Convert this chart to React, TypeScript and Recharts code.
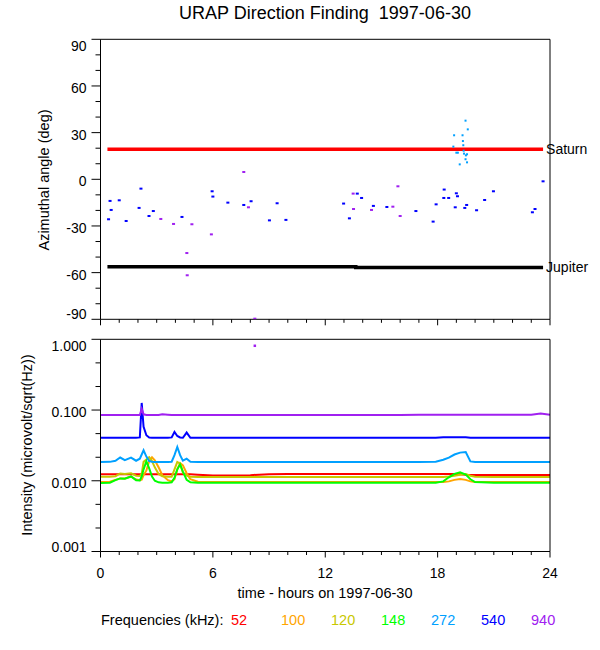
import React from 'react';
import { ComposedChart, Line, Scatter, XAxis, YAxis } from 'recharts';

const FONT = '"Liberation Sans", Arial, Helvetica, sans-serif';

// ---- top panel: azimuthal angle ----
const hourTicks = [0, 1, 2, 3, 4, 5, 6, 7, 8, 9, 10, 11, 12, 13, 14, 15, 16, 17, 18, 19, 20, 21, 22, 23, 24];
const angleTicks = [-90, -80, -70, -60, -50, -40, -30, -20, -10, 0, 10, 20, 30, 40, 50, 60, 70, 80, 90];

const blueHours = [0.43, 0.51, 0.57, 1.0, 1.37, 2.06, 2.16, 2.59, 2.82, 4.35, 5.96, 6.0, 6.8, 7.65, 8.04, 9.02, 9.43, 9.9, 12.98, 13.29, 13.71, 13.94, 14.57, 15.29, 16.84, 17.76, 17.92, 18.35, 18.33, 18.59, 18.94, 19.0, 19.06, 19.45, 19.55, 20.08, 20.51, 20.98, 23.06, 23.2, 23.63];
const blueAngles = [-25.7, -13.9, -19.7, -13.5, -26.8, -18.4, -6.0, -23.6, -20.4, -24.2, -7.7, -11.1, -15.0, -16.5, -14.1, -26.4, -15.4, -26.1, -15.6, -25.1, -9.2, -12.0, -17.1, -17.8, -20.4, -27.2, -16.1, -6.6, -12.0, -12.0, -18.0, -9.0, -10.9, -18.4, -16.5, -19.9, -13.3, -7.7, -21.2, -19.1, -1.3];

const purpleHours = [3.22, 3.9, 4.61, 4.63, 4.88, 5.92, 7.65, 7.9, 8.24, 13.49, 13.51, 14.47, 15.61, 15.88, 16.0];
const purpleAngles = [-25.5, -28.7, -47.4, -61.7, -28.9, -35.4, 4.7, -18.0, -89.6, -9.2, -19.1, -19.7, -17.6, -4.5, -23.6];

const cyanHours = [18.88, 18.84, 19.0, 19.08, 19.18, 19.33, 19.35, 19.37, 19.39, 19.41, 19.49, 19.51, 19.57, 19.49, 19.57, 19.61];
const cyanAngles = [28.3, 21.0, 17.1, 17.1, 9.6, 28.3, 24.6, 21.9, 18.4, 16.5, 37.7, 15.4, 16.1, 12.9, 10.9, 32.1];

const saturnHours = [0.37, 23.63];
const saturnAngles = [19.3, 19.3];
const jupiterHours = [0.37, 13.63, 23.63];
const jupiterAngles = [-56.2, -56.7, -56.7];

// ---- bottom panel: intensity ----
const intensityTicks = [0.001, 0.00215, 0.00464, 0.01, 0.0215, 0.0464, 0.1, 0.215, 0.464, 1];

const hours = [0, 0.5, 0.8, 1.05, 1.3, 1.63, 1.9, 2.1, 2.2, 2.3, 2.45, 2.6, 2.75, 2.9, 3.1, 3.3, 3.6, 3.8, 3.95, 4.1, 4.25, 4.4, 4.6, 4.8, 5.2, 6, 7, 8, 9, 10, 11, 12, 13, 14, 15, 16, 17, 17.9, 18.3, 18.6, 18.9, 19.2, 19.5, 19.75, 20, 21, 22, 23, 23.5, 24];

const f52 = [0.0124, 0.0124, 0.0124, 0.0124, 0.0124, 0.0124, 0.0124, 0.0124, 0.0124, 0.0124, 0.0124, 0.0124, 0.0124, 0.0124, 0.0124, 0.0124, 0.0124, 0.0124, 0.0124, 0.0124, 0.0124, 0.0124, 0.0124, 0.0124, 0.0122, 0.0119, 0.0119, 0.012, 0.0124, 0.0125, 0.0125, 0.0125, 0.0125, 0.0125, 0.0125, 0.0125, 0.0125, 0.0125, 0.0125, 0.0125, 0.0125, 0.0124, 0.0122, 0.0121, 0.0121, 0.0121, 0.0121, 0.0121, 0.0121, 0.0121];
const f100 = [0.0096, 0.0097, 0.0103, 0.0108, 0.0108, 0.0115, 0.0104, 0.0102, 0.0104, 0.012, 0.014, 0.019, 0.0215, 0.0195, 0.0155, 0.012, 0.0102, 0.0098, 0.0105, 0.0145, 0.0178, 0.0165, 0.0128, 0.0105, 0.0097, 0.0096, 0.0096, 0.0096, 0.0096, 0.0096, 0.0096, 0.0096, 0.0096, 0.0096, 0.0096, 0.0096, 0.0096, 0.0096, 0.0096, 0.0098, 0.0103, 0.0106, 0.0103, 0.0098, 0.0096, 0.0096, 0.0096, 0.0096, 0.0096, 0.0096];
const f120 = [0.0114, 0.0114, 0.0116, 0.0127, 0.0125, 0.0128, 0.0118, 0.0117, 0.0125, 0.0185, 0.02, 0.0215, 0.019, 0.0155, 0.0125, 0.0116, 0.0114, 0.0114, 0.0145, 0.0185, 0.0175, 0.013, 0.0118, 0.0114, 0.0113, 0.0113, 0.0113, 0.0113, 0.0113, 0.0113, 0.0113, 0.0113, 0.0113, 0.0113, 0.0113, 0.0113, 0.0113, 0.0113, 0.0113, 0.0115, 0.0118, 0.0122, 0.0125, 0.0118, 0.0114, 0.0113, 0.0113, 0.0113, 0.0113, 0.0113];
const f148 = [0.0093, 0.0094, 0.0102, 0.0108, 0.0107, 0.0115, 0.0102, 0.0101, 0.0115, 0.0145, 0.0188, 0.015, 0.0115, 0.01, 0.0095, 0.0094, 0.0094, 0.0095, 0.011, 0.0145, 0.017, 0.0135, 0.0103, 0.0095, 0.0094, 0.0094, 0.0094, 0.0094, 0.0094, 0.0094, 0.0094, 0.0094, 0.0094, 0.0094, 0.0094, 0.0094, 0.0094, 0.0094, 0.0098, 0.0112, 0.0125, 0.0132, 0.0122, 0.0105, 0.0096, 0.0094, 0.0094, 0.0094, 0.0094, 0.0094];
const f272 = [0.0184, 0.0185, 0.0192, 0.0213, 0.0196, 0.0212, 0.0192, 0.0205, 0.0235, 0.027, 0.022, 0.019, 0.0186, 0.0184, 0.0184, 0.0184, 0.0184, 0.0186, 0.023, 0.03, 0.023, 0.0192, 0.0205, 0.0186, 0.0184, 0.0184, 0.0184, 0.0184, 0.0184, 0.0184, 0.0184, 0.0184, 0.0184, 0.0184, 0.0184, 0.0184, 0.0184, 0.0186, 0.0198, 0.0212, 0.0235, 0.025, 0.0255, 0.0188, 0.0184, 0.0184, 0.0184, 0.0184, 0.0184, 0.0184];
const f540 = [0.0405, 0.0405, 0.0405, 0.0405, 0.0405, 0.0405, 0.0405, 0.041, 0.126, 0.058, 0.044, 0.041, 0.0405, 0.0405, 0.0405, 0.0405, 0.0405, 0.041, 0.049, 0.043, 0.041, 0.0405, 0.048, 0.0405, 0.0405, 0.0405, 0.0405, 0.0405, 0.0405, 0.0405, 0.0405, 0.0405, 0.0405, 0.0405, 0.0405, 0.0405, 0.0405, 0.0405, 0.0412, 0.0412, 0.0412, 0.0412, 0.0412, 0.0405, 0.0405, 0.0405, 0.0405, 0.0405, 0.0405, 0.0405];
const f940 = [0.085, 0.085, 0.085, 0.085, 0.085, 0.085, 0.085, 0.085, 0.104, 0.087, 0.085, 0.085, 0.085, 0.085, 0.085, 0.087, 0.086, 0.085, 0.085, 0.085, 0.085, 0.085, 0.085, 0.085, 0.085, 0.085, 0.085, 0.085, 0.085, 0.085, 0.085, 0.085, 0.085, 0.085, 0.085, 0.085, 0.086, 0.086, 0.086, 0.086, 0.086, 0.086, 0.086, 0.086, 0.086, 0.086, 0.086, 0.086, 0.089, 0.086];

const outlierHours = [8.24];
const outlierValues = [0.81];

const freqLabels = ['52', '100', '120', '148', '272', '540', '940'];
const freqColors = ['#ff0000', '#ffa500', '#c8c800', '#00ff00', '#00a0ff', '#0000ff', '#a020f0'];
const freqSeries = [f52, f100, f120, f148, f272, f540, f940];

const pts = (xs: number[], ys: number[]) => xs.map((h, i) => ({ h, a: ys[i] }));

type Side = 'left' | 'right' | 'top' | 'bottom';

function makeTick(side: Side, isMajor: (v: number) => boolean, majorLen: number, minorLen: number,
  label?: (v: number) => string | null, topVal?: number, bottomVal?: number) {
  return (props: any) => {
    const { x, y, payload } = props;
    const v = payload.value;
    const len = isMajor(v) ? majorLen : minorLen;
    let x2 = x, y2 = y;
    if (side === 'left') x2 = x - len;
    if (side === 'right') x2 = x + len;
    if (side === 'top') y2 = y - len;
    if (side === 'bottom') y2 = y + len;
    const txt = label ? label(v) : null;
    let t: any = null;
    if (txt) {
      if (side === 'left') {
        let dy = 7;
        if (v === topVal) dy = 12;
        if (v === bottomVal) dy = 0;
        t = <text x={x - 14} y={y + dy} textAnchor="end" fontFamily={FONT} fontSize={14} fill="#000">{txt}</text>;
      } else {
        t = <text x={x} y={y + 26} textAnchor="middle" fontFamily={FONT} fontSize={14} fill="#000">{txt}</text>;
      }
    }
    return (
      <g>
        <line x1={x} y1={y} x2={x2} y2={y2} stroke="#000" strokeWidth={1} />
        {t}
      </g>
    );
  };
}

const hourMajor = (v: number) => v % 6 === 0;
const angleMajor = (v: number) => v % 30 === 0;
const logMajor = (v: number) => Math.abs(Math.log10(v) - Math.round(Math.log10(v))) < 0.01;

const dash = (color: string, w: number, hgt: number) => (props: any) => (
  <rect x={props.cx - w / 2} y={props.cy - hgt / 2} width={w} height={hgt} fill={color} />
);

const planetLabel = (name: string, last: number) => (props: any) => {
  if (props.index !== last) return null;
  return (
    <text x={props.x + 3} y={props.y + 4.5} fontFamily={FONT} fontSize={14} fill="#000">{name}</text>
  );
};

const axisLine = { stroke: '#000', strokeWidth: 1 };

export default function App() {
  return (
    <div style={{ position: 'absolute', left: 0, top: 0, width: 600, height: 650, background: '#fff' }}>
      <div style={{ position: 'absolute', left: 0, top: 0 }}>
        <ComposedChart width={600} height={332} margin={{ top: 0, right: 0, bottom: 0, left: 0 }}>
          <XAxis dataKey="h" type="number" domain={[0, 24]} ticks={hourTicks} interval={0} allowDataOverflow
            height={12.7} tickSize={0} tickMargin={0} tickLine={false} axisLine={axisLine}
            tick={makeTick('bottom', hourMajor, 6, 3.5)} />
          <XAxis xAxisId="t" orientation="top" dataKey="h" type="number" domain={[0, 24]} ticks={hourTicks} interval={0}
            height={39.3} tickSize={0} tickMargin={0} tickLine={false} axisLine={axisLine}
            tick={makeTick('top', hourMajor, 6, 3.5)} />
          <YAxis type="number" domain={[-90, 90]} ticks={angleTicks} interval={0} allowDataOverflow width={100.5}
            tickSize={0} tickMargin={0} tickLine={false} axisLine={axisLine}
            tick={makeTick('left', angleMajor, 9, 5, (v) => (v % 30 === 0 ? String(v) : null), 90, -90)} />
          <YAxis yAxisId="r" orientation="right" type="number" domain={[-90, 90]} ticks={angleTicks} interval={0} width={50}
            tickSize={0} tickMargin={0} tickLine={false} axisLine={axisLine}
            tick={makeTick('right', angleMajor, 9, 5)} />
          <Line data={pts(saturnHours, saturnAngles)} dataKey="a" stroke="#ff0000" strokeWidth={3.5} dot={false}
            isAnimationActive={false} label={planetLabel('Saturn', saturnHours.length - 1)} />
          <Line data={pts(jupiterHours, jupiterAngles)} dataKey="a" type="stepAfter" stroke="#000" strokeWidth={3.5} dot={false}
            isAnimationActive={false} label={planetLabel('Jupiter', jupiterHours.length - 1)} />
          <Scatter data={pts(blueHours, blueAngles)} dataKey="a" shape={dash('#0000ff', 3, 2)} isAnimationActive={false} />
          <Scatter data={pts(purpleHours, purpleAngles)} dataKey="a" shape={dash('#a020f0', 3, 2)} isAnimationActive={false} />
          <Scatter data={pts(cyanHours, cyanAngles)} dataKey="a" shape={dash('#00a0ff', 2, 2)} isAnimationActive={false} />
        </ComposedChart>
      </div>
      <div style={{ position: 'absolute', left: 0, top: 332 }}>
        <ComposedChart width={600} height={250} margin={{ top: 0, right: 0, bottom: 0, left: 0 }}>
          <XAxis dataKey="h" type="number" domain={[0, 24]} ticks={hourTicks} interval={0} allowDataOverflow
            height={30.5} tickSize={0} tickMargin={0} tickLine={false} axisLine={axisLine}
            tick={makeTick('bottom', hourMajor, 6, 3.5, (v) => (v % 6 === 0 ? String(v) : null))} />
          <XAxis xAxisId="t" orientation="top" dataKey="h" type="number" domain={[0, 24]} ticks={hourTicks} interval={0}
            height={7.3} tickSize={0} tickMargin={0} tickLine={false} axisLine={axisLine}
            tick={makeTick('top', hourMajor, 6, 3.5)} />
          <YAxis type="number" scale="log" domain={[0.001, 1]} ticks={intensityTicks} interval={0} allowDataOverflow width={100.5}
            tickSize={0} tickMargin={0} tickLine={false} axisLine={axisLine}
            tick={makeTick('left', logMajor, 9, 5, (v) => (logMajor(v) ? v.toFixed(3) : null), 1, 0.001)} />
          <YAxis yAxisId="r" orientation="right" type="number" scale="log" domain={[0.001, 1]} ticks={intensityTicks} interval={0} width={50}
            tickSize={0} tickMargin={0} tickLine={false} axisLine={axisLine}
            tick={makeTick('right', logMajor, 9, 5)} />
          {freqSeries.map((s, i) => (
            <Line key={freqLabels[i]} data={pts(hours, s)} dataKey="a" stroke={freqColors[i]} strokeWidth={2}
              dot={false} isAnimationActive={false} />
          ))}
          <Scatter data={pts(outlierHours, outlierValues)} dataKey="a" shape={dash('#a020f0', 2.5, 2.5)} isAnimationActive={false} />
        </ComposedChart>
      </div>
      <svg style={{ position: 'absolute', left: 0, top: 0, pointerEvents: 'none' }} width={600} height={650}>
        <text x={325} y={19} textAnchor="middle" fontFamily={FONT} fontSize={18} fill="#000" style={{ whiteSpace: 'pre' }}>
          URAP Direction Finding  1997-06-30
        </text>
        <text x={48.5} y={180} transform="rotate(-90 48.5 180)" textAnchor="middle" fontFamily={FONT} fontSize={14.5} fill="#000">
          Azimuthal angle (deg)
        </text>
        <text x={31.5} y={445} transform="rotate(-90 31.5 445)" textAnchor="middle" fontFamily={FONT} fontSize={14.5} fill="#000">
          Intensity (microvolt/sqrt(Hz))
        </text>
        <text x={325} y={598} textAnchor="middle" fontFamily={FONT} fontSize={14.5} fill="#000">time - hours on 1997-06-30</text>
        <text x={101} y={625} fontFamily={FONT} fontSize={14.5} fill="#000">Frequencies (kHz):</text>
        {freqLabels.map((f, i) => (
          <text key={f} x={231 + 50 * i} y={625} fontFamily={FONT} fontSize={14.5} fill={freqColors[i]}>{f}</text>
        ))}
      </svg>
    </div>
  );
}
